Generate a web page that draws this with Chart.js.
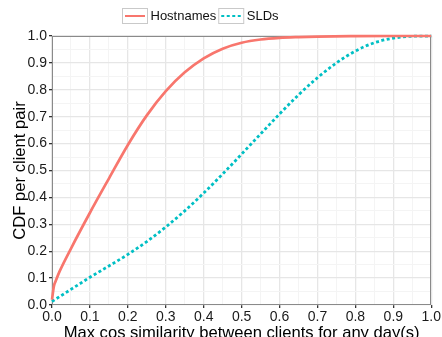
<!DOCTYPE html>
<html>
<head>
<meta charset="utf-8">
<script src="https://cdn.jsdelivr.net/npm/chart.js@4.4.1/dist/chart.umd.min.js"></script>
<style>
  html, body { margin: 0; padding: 0; background: #fff; }
</style>
</head>
<body>
<canvas id="cdf" width="442" height="337"></canvas>
<script>
// Hostnames CDF
const hostX = [0, 0.005, 0.01, 0.02, 0.05, 0.1, 0.15, 0.2, 0.25, 0.3, 0.35, 0.4, 0.45, 0.5, 0.55, 0.6, 0.65, 0.7, 0.8, 0.9, 1.0];
const hostY = [0.02, 0.07, 0.09, 0.125, 0.21, 0.343, 0.47, 0.595, 0.705, 0.795, 0.865, 0.917, 0.953, 0.975, 0.987, 0.993, 0.996, 0.998, 0.9995, 1.0, 1.0];

// SLDs CDF
const sldX = [0, 0.05, 0.1, 0.15, 0.2, 0.25, 0.3, 0.35, 0.4, 0.45, 0.5, 0.55, 0.6, 0.65, 0.7, 0.75, 0.8, 0.85, 0.9, 0.95, 1.0];
const sldY = [0.013, 0.058, 0.103, 0.145, 0.188, 0.236, 0.29, 0.35, 0.416, 0.487, 0.561, 0.636, 0.71, 0.781, 0.845, 0.9, 0.944, 0.975, 0.992, 0.999, 1.0];

const seriesNames = ["Hostnames", "SLDs"];
const xTitle = "Max cos similarity between clients for any day(s)";
const yTitle = "CDF per client pair";

const red = "#F8766D";
const cyan = "#00BFC4";
const majorGrid = "#E6E6E6";
const minorGrid = "#F4F4F4";
const frameColor = "#8A8A8A";
const fontFamily = "'Liberation Sans', Arial, sans-serif";

function toPoints(xs, ys) {
    return xs.map((x, i) => ({ x: x, y: ys[i] }));
}

// grey frame round the panel
const panelBorder = {
    id: "panelBorder",
    beforeDatasetsDraw(chart) {
        const { ctx, chartArea: a } = chart;
        ctx.save();
        ctx.strokeStyle = frameColor;
        ctx.lineWidth = 1;
        ctx.strokeRect(Math.round(a.left) + 0.5, Math.round(a.top) + 0.5,
            Math.round(a.right - a.left) - 1, Math.round(a.bottom - a.top) - 1);
        ctx.restore();
    }
};

// ggplot style legend: keys in small boxes on top
const boxLegend = {
    id: "boxLegend",
    afterDraw(chart) {
        const ctx = chart.ctx;
        let x = 122.5;
        const top = 8.5, boxW = 25, boxH = 15;
        ctx.save();
        ctx.font = "13px " + fontFamily;
        ctx.textBaseline = "middle";
        chart.data.datasets.forEach(ds => {
            ctx.strokeStyle = "#C9C9C9";
            ctx.lineWidth = 1;
            ctx.strokeRect(x, top, boxW, boxH);
            ctx.strokeStyle = ds.borderColor;
            ctx.lineWidth = 2;
            ctx.setLineDash(ds.borderDash || []);
            ctx.beginPath();
            ctx.moveTo(x + 2.5, top + boxH / 2);
            ctx.lineTo(x + boxW - 2.5, top + boxH / 2);
            ctx.stroke();
            ctx.setLineDash([]);
            ctx.fillStyle = "#111";
            ctx.fillText(ds.label, x + boxW + 3, top + boxH / 2 + 0.5);
            x += boxW + 3 + ctx.measureText(ds.label).width + 2.5;
        });
        ctx.restore();
    }
};

function axis(titleText, fitSize, isY) {
    return {
        type: "linear",
        min: 0,
        max: 1,
        ticks: {
            stepSize: 0.05,
            autoSkip: false,
            maxRotation: 0,
            padding: isY ? 2 : 1,
            color: "#1A1A1A",
            font: { size: 14, family: fontFamily },
            callback: (v, i) => (i % 2 ? "" : v.toFixed(1))
        },
        grid: {
            color: c => (c.index % 2 ? minorGrid : majorGrid),
            lineWidth: c => (c.index % 2 ? 1 : 1.3),
            tickColor: c => (c.index % 2 ? "rgba(0,0,0,0)" : "#333"),
            tickLength: 3
        },
        border: { display: false },
        title: {
            display: true,
            text: titleText,
            color: "#000",
            font: { size: 16.6, family: fontFamily },
            padding: isY ? { top: 10, bottom: 0 } : { top: 0, bottom: -6 }
        },
        afterFit: scale => {
            if (isY) scale.width = fitSize;
            else scale.height = fitSize;
        }
    };
}

new Chart(document.getElementById("cdf"), {
    type: "line",
    data: {
        datasets: [
            {
                label: seriesNames[0],
                data: toPoints(hostX, hostY),
                borderColor: red,
                borderWidth: 2.7,
                pointRadius: 0,
                cubicInterpolationMode: "monotone",
                clip: false
            },
            {
                label: seriesNames[1],
                data: toPoints(sldX, sldY),
                borderColor: cyan,
                borderWidth: 2.8,
                borderDash: [3, 2.5],
                pointRadius: 0,
                cubicInterpolationMode: "monotone",
                clip: false
            }
        ]
    },
    options: {
        responsive: false,
        animation: false,
        layout: { padding: { top: 36, right: 10, left: 0, bottom: 0 } },
        plugins: {
            legend: { display: false },
            tooltip: { enabled: false }
        },
        scales: {
            x: axis(xTitle, 32, false),
            y: axis(yTitle, 52, true)
        }
    },
    plugins: [panelBorder, boxLegend]
});
</script>
</body>
</html>
